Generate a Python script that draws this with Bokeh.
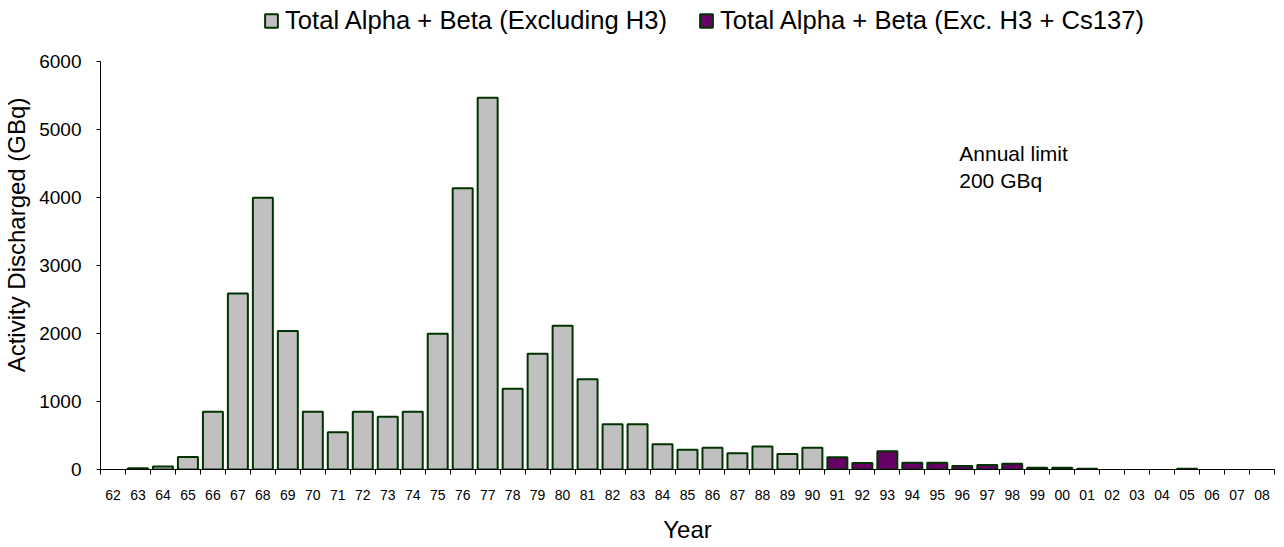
import math
from bokeh.plotting import figure
from bokeh.models import (ColumnDataSource, FactorRange, Range1d, LinearAxis,
                          FixedTicker, Legend, LegendItem, CustomJSTickFormatter)
from bokeh.core.properties import value
from bokeh.embed import file_html
from bokeh.resources import INLINE

# ---------------- data ----------------
years = ["62", "63", "64", "65", "66", "67", "68", "69", "70", "71", "72", "73", "74",
         "75", "76", "77", "78", "79", "80", "81", "82", "83", "84", "85", "86", "87",
         "88", "89", "90", "91", "92", "93", "94", "95", "96", "97", "98", "99", "00",
         "01", "02", "03", "04", "05", "06", "07", "08"]

# Total Alpha + Beta (Excluding H3), GBq  (62..90, then no data)
excl_h3 = [None, 20, 45, 185, 850, 2590, 4000, 2040, 850, 550, 850, 775, 850,
           2000, 4140, 5475, 1190, 1705, 2115, 1330, 665, 665, 370, 290, 320, 240,
           340, 230, 320] + [None] * 18

# Total Alpha + Beta (Exc. H3 + Cs137), GBq  (91..08)
excl_h3_cs137 = [None] * 29 + [180, 97, 267, 100, 100, 50, 65, 85, 27, 27,
                               12, None, None, None, 12, None, None, None]

series_names = ["Total Alpha + Beta (Excluding H3)", "Total Alpha + Beta (Exc. H3 + Cs137)"]
annotation_lines = ["Annual limit", "200 GBq"]
annotation_year = "96"
annotation_values = [4650, 4255]
y_ticks = [0, 1000, 2000, 3000, 4000, 5000, 6000]
y_max = 6000

FONT = "Liberation Sans"
GRAY = "#C0C0C0"
PURPLE = "#660066"
EDGE = "#003300"

# layout (pixels): plot area from y=62 (value y_max) down to y=473 (value 0);
# the frame reaches up to the canvas top so the legend can sit above the axis end.
AXIS_TOP_PX = 62
AXIS_BOTTOM_PX = 473
range_top = y_max * AXIS_BOTTOM_PX / (AXIS_BOTTOM_PX - AXIS_TOP_PX)


def nan(v):
    return float("nan") if v is None else v


source = ColumnDataSource(data=dict(
    year=years,
    a=[nan(v) for v in excl_h3],
    b=[nan(v) for v in excl_h3_cs137],
))

p = figure(width=1276, height=545,
           x_range=FactorRange(factors=years),
           y_range=Range1d(0, range_top),
           output_backend="svg", toolbar_location=None,
           x_axis_location=None,
           min_border_left=99, min_border_right=2,
           min_border_top=0, min_border_bottom=72)
p.outline_line_color = None
p.grid.grid_line_color = None
p.background_fill_color = "white"
p.border_fill_color = "white"

r1 = p.vbar(x="year", top="a", width=0.8, source=source,
            fill_color=GRAY, line_color=EDGE, line_width=2)
r2 = p.vbar(x="year", top="b", width=0.8, source=source,
            fill_color=PURPLE, line_color=EDGE, line_width=2)

# y axis
ya = p.yaxis[0]
ya.ticker = FixedTicker(ticks=y_ticks)
ya.bounds = (0, y_max)
ya.minor_tick_line_color = None
ya.major_tick_in = 0
ya.major_tick_out = 4
ya.major_label_standoff = 15
ya.major_label_text_font = FONT
ya.major_label_text_font_size = "19px"
ya.major_label_text_color = "black"
ya.axis_line_color = "black"
ya.major_tick_line_color = "black"
ya.axis_label = "Activity Discharged (GBq)"
ya.axis_label_text_font = FONT
ya.axis_label_text_font_size = "24px"
ya.axis_label_text_font_style = "normal"
ya.axis_label_text_color = "black"
ya.axis_label_standoff = 6

# x axis: labels at category centres, tick marks at category boundaries
n = len(years)
xa = LinearAxis(
    ticker=FixedTicker(ticks=[i + 0.5 for i in range(n)],
                       minor_ticks=list(range(n + 1))),
    formatter=CustomJSTickFormatter(args=dict(labels=years),
                                    code="return labels[Math.floor(tick)];"),
    major_tick_in=0, major_tick_out=0, major_tick_line_color=None,
    minor_tick_in=0, minor_tick_out=5, minor_tick_line_color="black",
    major_label_standoff=15,
    major_label_text_font=FONT, major_label_text_font_size="14px",
    major_label_text_color="black",
    axis_line_color="black",
    axis_label="Year", axis_label_text_font=FONT, axis_label_text_font_size="24px",
    axis_label_text_font_style="normal", axis_label_text_color="black",
    axis_label_standoff=13)
p.add_layout(xa, "below")

# annotation text
p.text(x=[annotation_year] * len(annotation_lines), y=annotation_values,
       text=annotation_lines, x_offset=-3,
       text_font=value(FONT), text_font_size="21px",
       text_baseline="alphabetic", text_align="left", text_color="black")

legend = Legend(items=[LegendItem(label=series_names[0], renderers=[r1]),
                       LegendItem(label=series_names[1], renderers=[r2])],
                location=(163, 434), orientation="horizontal",
                glyph_width=16, glyph_height=17, label_standoff=6, spacing=31,
                padding=0, margin=0, border_line_color=None,
                background_fill_alpha=0,
                label_text_font=FONT, label_text_font_size="25.6px",
                label_text_color="black")
p.add_layout(legend)

html = file_html(p, INLINE)
open("out.html", "w").write(html)
